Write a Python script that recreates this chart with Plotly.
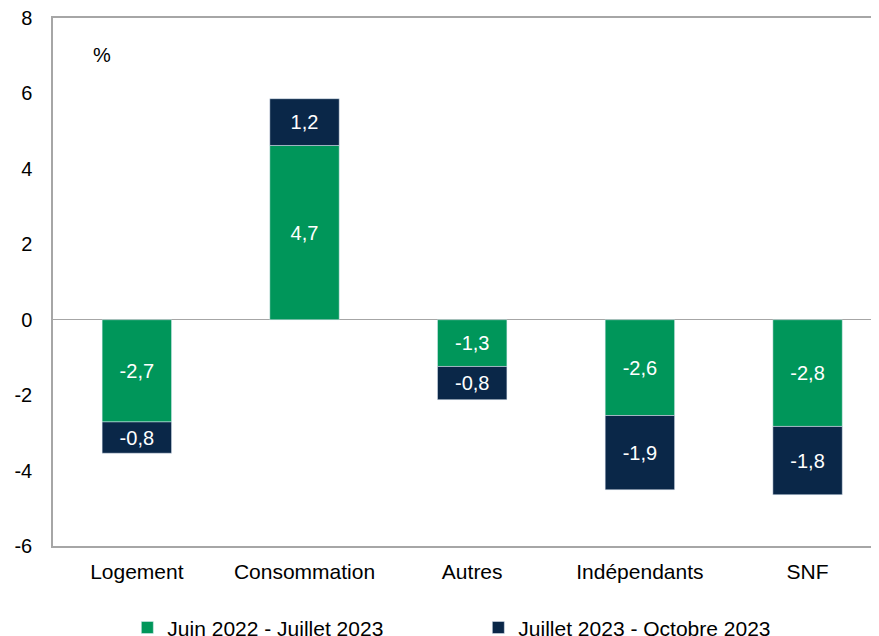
import plotly.graph_objects as go

categories = ["Logement", "Consommation", "Autres", "Indépendants", "SNF"]

serie_1_nom = "Juin 2022 - Juillet 2023"
serie_1_valeurs = [-2.71, 4.62, -1.24, -2.54, -2.83]
serie_1_etiquettes = ["-2,7", "4,7", "-1,3", "-2,6", "-2,8"]

serie_2_nom = "Juillet 2023 - Octobre 2023"
serie_2_valeurs = [-0.83, 1.24, -0.88, -1.97, -1.81]
serie_2_etiquettes = ["-0,8", "1,2", "-0,8", "-1,9", "-1,8"]

y_ticks = [-6, -4, -2, 0, 2, 4, 6, 8]
y_tick_labels = ["-6", "-4", "-2", "0", "2", "4", "6", "8"]

VERT = "#00965A"
MARINE = "#0A2748"
GRIS = "#A6A6A6"
POLICE = "Liberation Sans, Arial, sans-serif"

fig = go.Figure()
fig.add_trace(go.Bar(
    x=categories, y=serie_1_valeurs, name=serie_1_nom,
    marker_color=VERT, width=0.414,
    text=serie_1_etiquettes, textposition="inside", insidetextanchor="middle",
    textfont=dict(color="white", size=20, family=POLICE),
))
fig.add_trace(go.Bar(
    x=categories, y=serie_2_valeurs, name=serie_2_nom,
    marker_color=MARINE, width=0.414,
    text=serie_2_etiquettes, textposition="inside", insidetextanchor="middle",
    textfont=dict(color="white", size=20, family=POLICE),
))

# la page ajoute ~8 px de marge autour de la figure
fig.update_layout(
    barmode="relative",
    width=871, height=628,
    margin=dict(l=45, r=0, t=10, b=90, autoexpand=False),
    plot_bgcolor="white", paper_bgcolor="white",
    font=dict(family=POLICE, size=20, color="black"),
    uniformtext=dict(minsize=8, mode="show"),
    legend=dict(
        orientation="h", x=0.09, xanchor="left",
        yref="container", y=0.013, yanchor="middle",
        entrywidth=306, font=dict(size=21),
        traceorder="normal",
    ),
)

fig.update_xaxes(
    range=[-0.5, 4.426], showline=True, mirror=True,
    linecolor=GRIS, linewidth=1.5, showgrid=False,
    ticks="", ticklabelstandoff=6, tickfont=dict(size=21),
)
fig.update_yaxes(
    range=[-6, 8], tickvals=y_ticks, ticktext=y_tick_labels,
    showline=True, mirror=False,
    linecolor=GRIS, linewidth=1.5, showgrid=False,
    zeroline=True, zerolinecolor=GRIS, zerolinewidth=1,
    ticks="", ticklabelstandoff=15, tickfont=dict(size=20),
    ticklabeloverflow="allow",
)

fig.add_annotation(
    text="%", xref="paper", yref="paper", x=0.0593, y=0.93,
    xanchor="center", yanchor="middle",
    showarrow=False, font=dict(size=20),
)

fig.write_html("out.html")
